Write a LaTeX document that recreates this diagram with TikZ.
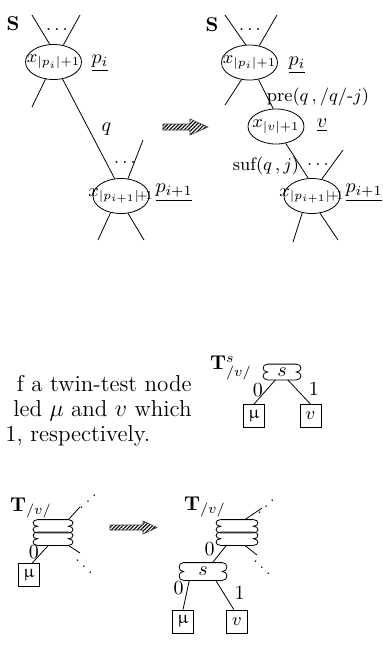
\documentclass[tikz,border=0pt]{standalone}
\usepackage{amsmath}
\usepackage{upgreek}
\usetikzlibrary{shapes.geometric,patterns.meta}

\newcommand{\cloudline}[1]{\draw (#1.north west)--(#1.north east)
 .. controls +(6,0) and +(6,0) .. (#1.east)
 .. controls +(6,0) and +(6,0) .. (#1.south east)--(#1.south west)
 .. controls +(-6,0) and +(-6,0) .. (#1.west)
 .. controls +(-6,0) and +(-6,0) .. (#1.north west);}

\begin{document}
\begin{tikzpicture}[x=0.5pt,y=-0.5pt,
 xnode/.style={ellipse,draw,minimum width=28pt,minimum height=17.5pt,inner sep=0pt,font=\small},
 cloudnode/.style={minimum width=14pt,minimum height=7.5pt,inner sep=0pt},
 leaf/.style={draw,minimum width=10.5pt,minimum height=11.5pt,inner sep=0pt,font=\small},
 txt/.style={inner sep=0pt,font=\fontsize{11.5}{13}\selectfont},
 bigarrow/.style={pattern={Lines[angle=45,distance=1.3pt,line width=.55pt]},draw=black!75,line width=.3pt}]
\useasboundingbox (0,0) rectangle (382,645);

\draw(13,24) node(sa){{$\mathbf{S}$}};
\draw(53.5,62) node[xnode](pa){{\makebox[0pt]{$x_{|p_i|+1}$}}};
\draw(121,196) node[xnode](pb){{\makebox[0pt]{$x_{|p_{i+1}|\!+\!1}$}}};
\draw(100,63) node(la){{$\underline{p_i}$}};\draw(174,193) node(lb){{$\underline{p_{i+1}}$}};
\draw(57,30) node(da){{\small$\ldots$}};\draw(125,163) node(db){{\small$\ldots$}};
\coordinate (a1) at (32,15);\coordinate (a2) at (80,15);\coordinate (a3) at (32,107);
\coordinate (b1) at (143,140);\coordinate (b2) at (98,240);\coordinate (b3) at (144,240);
\draw (a1)--(pa.102);\draw (a2)--(pa.60);\draw (a3)--(pa.245);
\draw (pa.298)--(pb.110) node[pos=.5,right=3pt](qa){{$q$}};
\draw (b1)--(pb.68);\draw (b2)--(pb.238);\draw (b3)--(pb.292);

\draw[bigarrow] (163,124)--(190,124)--(190,119)--(208,127)--(190,135)--(190,130)--(163,130)--cycle;

\draw(212,25) node(sc){{$\mathbf{S}$}};
\draw(249.5,62.5) node[xnode](pc){{\makebox[0pt]{$x_{|p_i|+1}$}}};
\draw(276,126.5) node[xnode](pv){{\makebox[0pt]{$x_{|v|+1}$}}};
\draw(312,196) node[xnode](pd){{\makebox[0pt]{$x_{|p_{i+1}|\!+\!1}$}}};
\draw(297,65) node(lc){{$\underline{p_i}$}};\draw(322,125) node(lv){{$\underline{v}$}};
\draw(364,193) node(ld){{$\underline{p_{i+1}}$}};
\draw(318,97) node(lpre){{\small pre($q$\,,\,$/q/$-$j$)}};
\draw(266,166) node(lsuf){{\small suf($q$\,,$\,j$)}};
\draw(250,30) node(dc){{\small$\ldots$}};\draw(318,165) node(dd){{\small$\ldots$}};
\coordinate (c1) at (225,15);\coordinate (c2) at (277,15);\coordinate (c3) at (225,105);
\coordinate (d1) at (343,150);\coordinate (d2) at (293,242);\coordinate (d3) at (338,240);
\draw (c1)--(pc.102);\draw (c2)--(pc.60);\draw (c3)--(pc.245);
\draw (pc.298)--(pv.99);\draw (pv.300)--(pd.102);
\draw (d1)--(pd.60);\draw (d2)--(pd.240);\draw (d3)--(pd.295);

\draw(192,391) node[txt,anchor=base east](ta){{f a twin-test node}};
\draw(192,416) node[txt,anchor=base east](tb){{led $\mu$ and $v$ which}};
\draw(5,441) node[txt,anchor=base west](tc){{1, respectively.}};

\draw(231,368) node(ts){{$\mathbf{T}^{s}_{/v/}$}};
\draw(282,372) node[cloudnode](cs){{$s$}};\cloudline{cs}
\draw(254,416) node[leaf](bm){{$\upmu$}};\draw(310.5,416) node[leaf](bv){{$v$}};
\draw (cs.230)--(bm.north) node[pos=.4,left=-1.5pt](z1){{0}};
\draw (cs.306)--(bv.north) node[pos=.35,right=3pt](o1){{1}};

\draw(31,508) node(tl){{$\mathbf{T}_{/v/}$}};
\draw(53,526.25) node[cloudnode,minimum width=15pt,minimum height=6.25pt](dlt){};\cloudline{dlt}
\draw(53,538.75) node[cloudnode,minimum width=15pt,minimum height=6.25pt](dlb){};\cloudline{dlb}
\draw(29,575) node[leaf](bl){{$\upmu$}};
\coordinate (e1) at (80,507);\coordinate (e2) at (80,553);
\draw (e1)--(dlt.north east);\draw (e2)--(dlb.south east);
\draw(88,496) node[xscale=-1](de1){{\scriptsize$\ddots$}};\draw(84,561) node(de2){{\scriptsize$\ddots$}};
\draw (dlb.235)--(bl.75) node[pos=.4,left=-2pt](z2){{0}};

\draw[bigarrow] (110,525)--(143,525)--(143,521)--(157,527.5)--(143,534)--(143,530)--(110,530)--cycle;

\draw(205,507) node(tr){{$\mathbf{T}_{/v/}$}};
\draw(237,526.25) node[cloudnode,minimum width=16pt,minimum height=6.25pt](drt){};\cloudline{drt}
\draw(237,538.75) node[cloudnode,minimum width=16pt,minimum height=6.25pt](drb){};\cloudline{drb}
\draw(203,571.5) node[cloudnode,minimum width=19pt,minimum height=8.5pt](cr){{$s$}};\cloudline{cr}
\draw(183,621.5) node[leaf](br1){{$\upmu$}};\draw(237,621.5) node[leaf](br2){{$v$}};
\coordinate (f1) at (262,508);\coordinate (f2) at (257,555);
\draw (f1)--(drt.40);\draw (f2)--(drb.-40);
\draw(266,501) node[xscale=-1](df1){{\scriptsize$\ddots$}};\draw(262,562) node(df2){{\scriptsize$\ddots$}};
\draw (drb.212)--(cr.43) node[pos=.2,left=1pt](z3){{0}};
\draw (cr.213)--(br1.north) node[pos=.25,left=-1.5pt](z4){{0}};
\draw (cr.325)--(br2.105) node[pos=.43,right=2pt](o2){{1}};
\end{tikzpicture}
\end{document}
